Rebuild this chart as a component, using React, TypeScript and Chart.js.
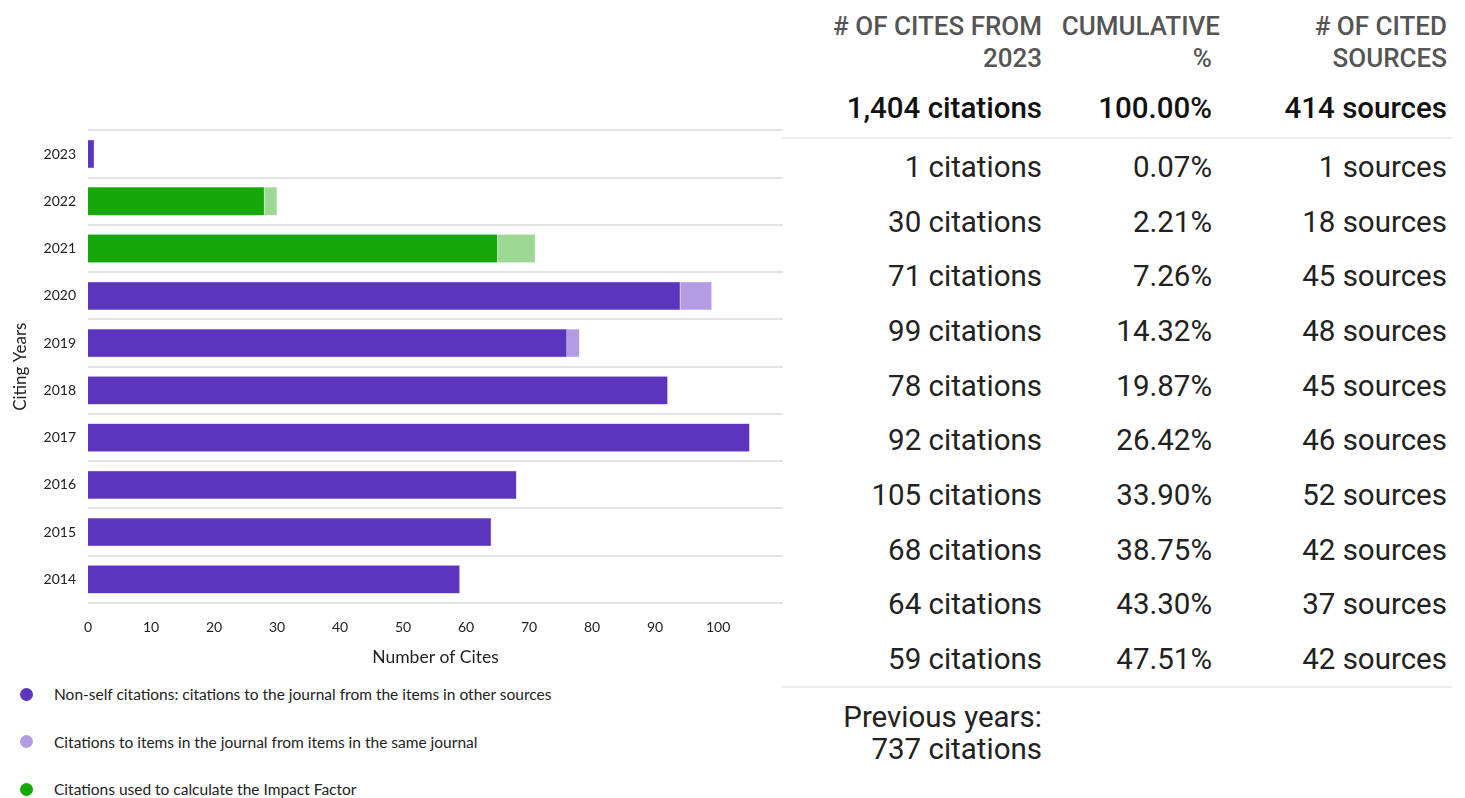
import React, { useEffect, useRef } from "react";
import { Chart, registerables } from "chart.js";

Chart.register(...registerables);

const years = ["2023", "2022", "2021", "2020", "2019", "2018", "2017", "2016", "2015", "2014"];
const nonSelf = [1, null, null, 94, 76, 92, 105, 68, 64, 59];
const selfCites = [0, null, null, 5, 2, 0, 0, 0, 0, 0];
const ifNonSelf = [null, 28, 65, null, null, null, null, null, null, null];
const ifSelf = [null, 2, 6, null, null, null, null, null, null, null];

const legendLabels = [
  "Non-self citations: citations to the journal from the items in other sources",
  "Citations to items in the journal from items in the same journal",
  "Citations used to calculate the Impact Factor",
];
const legendColors = ["#5c35be", "#b39ce3", "#15a808"];

const headerCol1 = ["# OF CITES FROM", "2023"];
const headerCol2 = ["CUMULATIVE", "%"];
const headerCol3 = ["# OF CITED", "SOURCES"];
const totalRow = ["1,404 citations", "100.00%", "414 sources"];
const rowCites = ["1 citations", "30 citations", "71 citations", "99 citations", "78 citations", "92 citations", "105 citations", "68 citations", "64 citations", "59 citations"];
const rowCumulative = ["0.07%", "2.21%", "7.26%", "14.32%", "19.87%", "26.42%", "33.90%", "38.75%", "43.30%", "47.51%"];
const rowSources = ["1 sources", "18 sources", "45 sources", "48 sources", "45 sources", "46 sources", "52 sources", "42 sources", "37 sources", "42 sources"];
const previousYears = ["Previous years:", "737 citations"];

const chartFont = "'Source Sans Pro', Lato, 'Open Sans', sans-serif";
const tableFont = "Roboto, 'Noto Sans', sans-serif";

function BarChart() {
  const ref = useRef<HTMLCanvasElement | null>(null);
  useEffect(() => {
    if (!ref.current) return;
    const chart = new Chart(ref.current, {
      type: "bar",
      data: {
        labels: years,
        datasets: [
          { label: legendLabels[0], data: nonSelf, backgroundColor: "#5c35be", borderColor: "#7a5ccc", borderWidth: 0.5, stack: "s" },
          { label: legendLabels[1], data: selfCites, backgroundColor: "#b39ce3", borderColor: "#c9b8ec", borderWidth: 0.5, stack: "s" },
          { label: legendLabels[2], data: ifNonSelf, backgroundColor: "#15a808", borderColor: "#3cb832", borderWidth: 0.5, stack: "s" },
          { label: "Impact Factor self citations", data: ifSelf, backgroundColor: "#9ed895", borderColor: "#b5e2ae", borderWidth: 0.5, stack: "s" },
        ],
      },
      options: {
        indexAxis: "y",
        animation: false,
        responsive: false,
        maintainAspectRatio: false,
        layout: { padding: { left: 6, right: 8, top: 0, bottom: 8 } },
        plugins: { legend: { display: false }, tooltip: { enabled: false } },
        datasets: { bar: { categoryPercentage: 1, barPercentage: 0.6 } },
        scales: {
          x: {
            stacked: true,
            min: 0,
            max: 110.3,
            grid: { display: false, drawTicks: false },
            border: { display: false },
            ticks: {
              stepSize: 10,
              padding: 16,
              color: "#222",
              font: { family: chartFont, size: 14 },
              callback: (v: any) => (Number(v) <= 100 && Number(v) % 10 === 0 ? String(v) : ""),
            },
            title: { display: true, text: "Number of Cites", color: "#222", font: { family: chartFont, size: 17.5 }, padding: { top: 4, bottom: 4 } },
            afterFit: (s: any) => { s.height = 69; },
          },
          y: {
            stacked: true,
            grid: { offset: true, drawTicks: false, color: "#e4e4e4", lineWidth: 2 },
            border: { display: false },
            ticks: { padding: 12, color: "#222", font: { family: chartFont, size: 14 } },
            title: { display: true, text: "Citing Years", color: "#222", font: { family: chartFont, size: 17 }, padding: { top: 4, bottom: 4 } },
            afterFit: (s: any) => { s.width = 82; },
          },
        },
      },
    });
    return () => chart.destroy();
  }, []);
  return <canvas ref={ref} width={799} height={570} style={{ position: "absolute", left: 0, top: 110, width: 799, height: 570 }} />;
}

const cellBase: React.CSSProperties = { position: "absolute", textAlign: "right", whiteSpace: "nowrap", fontFamily: tableFont };
const colRight = [1465 - 1042, 1465 - 1212, 1465 - 1447];

function Table() {
  const rowCenter = (i: number) => 167 + i * 54.68;
  return (
    <div>
      {[headerCol1, headerCol2, headerCol3].map((h, c) => (
        <div key={"h" + c} style={{ ...cellBase, right: c === 1 ? colRight[c] - 8 : colRight[c], top: 25 - 15, fontSize: 26, lineHeight: "32px", color: "#555", fontWeight: 500 }}>
          {h[0]}<br /><span style={{ marginRight: c === 1 ? 8 : 0 }}>{h[1]}</span>
        </div>
      ))}
      {totalRow.map((t, c) => (
        <div key={"t" + c} style={{ ...cellBase, right: colRight[c], top: 108 - 18, fontSize: 29.5, lineHeight: "36px", color: "#111", fontWeight: 500 }}>
          {t}
        </div>
      ))}
      <div style={{ position: "absolute", left: 782, width: 670, top: 137, height: 2, background: "#ececec" }} />
      {years.map((_, i) => (
        <React.Fragment key={"r" + i}>
          {[rowCites[i], rowCumulative[i], rowSources[i]].map((t, c) => (
            <div key={c} style={{ ...cellBase, right: colRight[c], top: rowCenter(i) - 18, fontSize: 29.5, lineHeight: "36px", color: "#222" }}>
              {t}
            </div>
          ))}
        </React.Fragment>
      ))}
      <div style={{ position: "absolute", left: 782, width: 670, top: 686, height: 2, background: "#ececec" }} />
      <div style={{ ...cellBase, right: colRight[0], top: 717 - 16, fontSize: 29.5, lineHeight: "32px", color: "#222" }}>
        {previousYears[0]}<br />{previousYears[1]}
      </div>
    </div>
  );
}

function Legend() {
  return (
    <div>
      {legendLabels.map((l, i) => (
        <div key={i} style={{ position: "absolute", left: 20, top: 684 + i * 47.5, height: 20, display: "flex", alignItems: "center", fontFamily: chartFont, fontSize: 15.5, color: "#222" }}>
          <span style={{ display: "inline-block", width: 13, height: 13, borderRadius: "50%", background: legendColors[i], marginRight: 21 }} />
          {l}
        </div>
      ))}
    </div>
  );
}

export default function App() {
  return (
    <div style={{ position: "relative", width: 1449, height: 790 }}>
      <div style={{ position: "absolute", left: -8, top: -8, width: 1465, height: 798, background: "#fff" }}>
        <BarChart />
        <Legend />
        <Table />
      </div>
    </div>
  );
}
